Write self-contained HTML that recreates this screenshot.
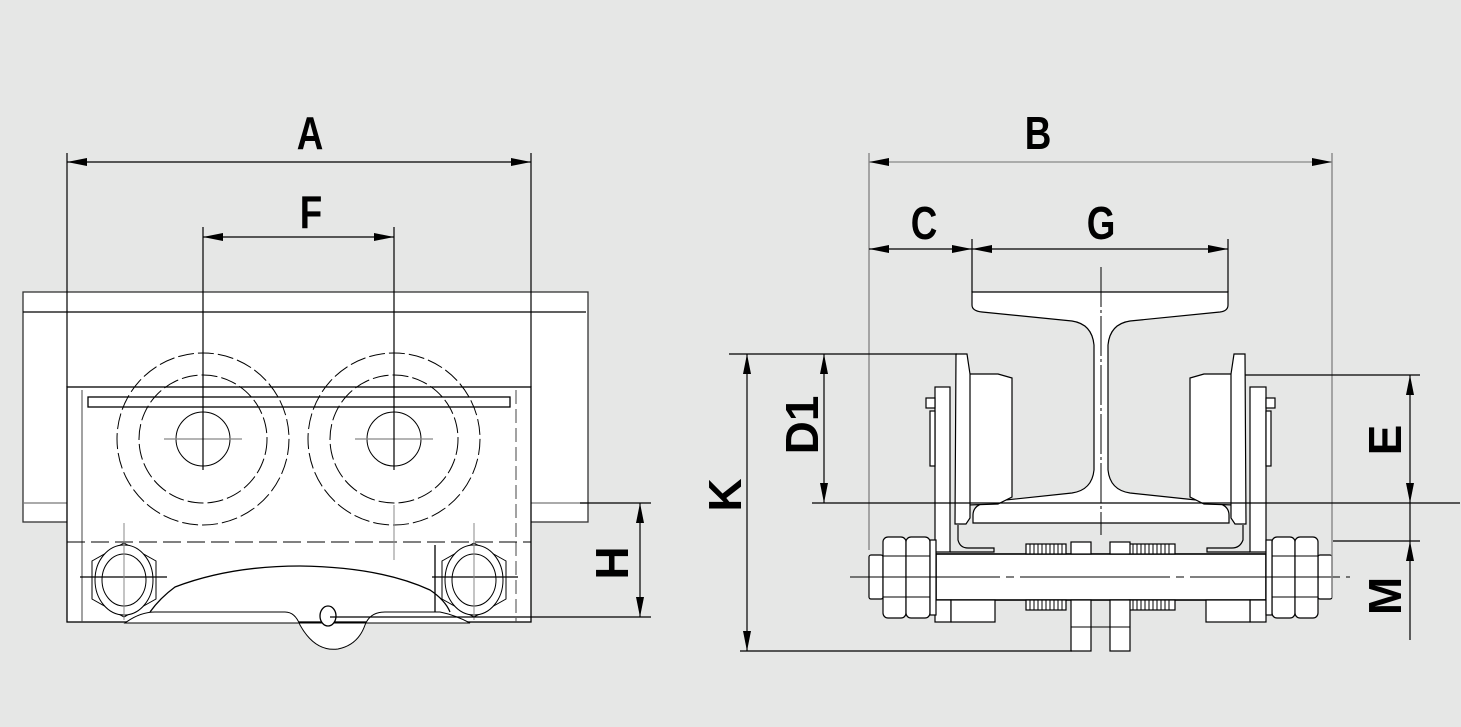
<!DOCTYPE html>
<html><head><meta charset="utf-8"><style>
html,body{margin:0;padding:0;background:#e6e7e6;}
svg{display:block}
.t{font-family:"Liberation Sans",sans-serif;font-weight:bold;fill:#000;}
</style></head><body>
<svg width="1461" height="727" viewBox="0 0 1461 727" xmlns="http://www.w3.org/2000/svg">
<defs>
<marker id="a" viewBox="0 0 20 8" refX="20" refY="4" markerWidth="20" markerHeight="8" orient="auto-start-reverse" markerUnits="userSpaceOnUse"><path d="M20,4 L0,0 L0,8 Z" fill="#000"/></marker>
</defs>
<rect width="1461" height="727" fill="#e6e7e6"/>
<g fill="#fff" stroke="#000" stroke-width="1.3">
<!-- LEFT VIEW -->
<rect x="23" y="292" width="565" height="230" stroke="#333"/>
<line x1="23" y1="312" x2="586" y2="312"/>
<line x1="23" y1="503" x2="67" y2="503" stroke="#777"/>
<line x1="531" y1="503" x2="588" y2="503" stroke="#777"/>
<rect x="67" y="387" width="464" height="235"/>
<line x1="82" y1="390" x2="82" y2="622" stroke="#444" stroke-width="1"/>
<line x1="516" y1="390" x2="516" y2="622" stroke="#444" stroke-width="1" stroke-dasharray="14,5"/>
<rect x="88" y="397" width="422" height="10"/>
<g fill="none" stroke-width="1" stroke-dasharray="16,4">
<circle cx="203" cy="439" r="86"/><circle cx="203" cy="439" r="64"/>
<circle cx="394" cy="439" r="86"/><circle cx="394" cy="439" r="64"/>
</g>
<circle cx="203" cy="439" r="27" fill="none" stroke-width="1"/>
<circle cx="394" cy="439" r="27" fill="none" stroke-width="1"/>
<line x1="67" y1="542" x2="531" y2="542" stroke-dasharray="18,6" stroke-width="1"/>
<line x1="435" y1="545" x2="435" y2="612"/>
<path d="M125,623 Q140,612 155,612 L285,612 Q295,612 300,625 Q315,652 338,649 Q358,645 365,625 Q370,612 385,612 L440,612 Q455,615 470,623 Z" fill="#fff" stroke="#000" stroke-width="1"/>
<path d="M150,612 Q160,598 175,587 Q230,566 300,566 Q380,567 430,590 Q445,600 450,612" fill="none"/>
<ellipse cx="328" cy="616" rx="8" ry="10"/>
<g stroke-width="1">
<polygon points="124,543 156,561 156,599 124,617 92,599 92,561" fill="#fff"/>
<ellipse cx="124" cy="580" rx="29" ry="35"/><ellipse cx="124" cy="580" rx="22" ry="26"/>
<polygon points="474,543 506,561 506,599 474,617 442,599 442,561" fill="#fff"/>
<ellipse cx="474" cy="580" rx="29" ry="35"/><ellipse cx="474" cy="580" rx="22" ry="26"/>
</g>
</g>
<g stroke="#000" stroke-width="1.2" fill="none">
<line x1="80" y1="577" x2="167" y2="577"/><line x1="432" y1="577" x2="518" y2="577"/>
<line x1="124" y1="523" x2="124" y2="620" stroke="#888" stroke-width="1"/>
<line x1="474" y1="523" x2="474" y2="620" stroke="#888" stroke-width="1"/>
<line x1="164" y1="439" x2="242" y2="439" stroke="#888"/><line x1="355" y1="439" x2="433" y2="439" stroke="#888"/>
<line x1="394" y1="505" x2="394" y2="560" stroke="#888" stroke-width="1"/>
<line x1="67" y1="153" x2="67" y2="387"/><line x1="531" y1="153" x2="531" y2="387"/>
<line x1="67" y1="162" x2="531" y2="162" marker-start="url(#a)" marker-end="url(#a)"/>
<line x1="203" y1="227" x2="203" y2="470"/><line x1="394" y1="227" x2="394" y2="470"/>
<line x1="203" y1="237" x2="394" y2="237" marker-start="url(#a)" marker-end="url(#a)"/>
<line x1="580" y1="503" x2="651" y2="503"/><line x1="330" y1="617" x2="651" y2="617"/>
<line x1="640" y1="503" x2="640" y2="617" marker-start="url(#a)" marker-end="url(#a)"/>
</g>
<!-- RIGHT VIEW -->
<g fill="#fff" stroke="#000" stroke-width="1.2">
<path d="M972,292 L1228,292 L1228,305 Q1228,311 1220,312 L1130,321 Q1110,324 1108,345 L1108,470 Q1110,490 1130,493 L1215,502 Q1229,505 1229,515 L1229,523 L973,523 L973,515 Q973,505 987,502 L1072,493 Q1092,490 1094,470 L1094,345 Q1092,324 1072,321 L982,312 Q972,311 972,305 Z"/>
<path d="M998,374 L1012,378 L1012,497 L998,504 L968,505 L968,374 Z"/>
<path d="M956,354 L967,354 L970,374 L970,518 L966,524 L955,524 Z"/>
<rect x="935" y="387" width="15" height="165"/>
<rect x="926" y="398" width="9" height="10"/>
<rect x="930" y="411" width="5" height="55"/>
<path d="M958,525 L958,540 Q960,548 968,548 L994,548 L994,552 L950,552" fill="none"/>
<path d="M1204,374 L1190,378 L1190,497 L1204,504 L1234,505 L1234,374 Z"/>
<path d="M1245,354 L1234,354 L1231,374 L1231,518 L1235,524 L1246,524 Z"/>
<rect x="1250" y="387" width="16" height="165"/>
<rect x="1266" y="398" width="9" height="10"/>
<rect x="1266" y="411" width="5" height="55"/>
<path d="M1243,525 L1243,540 Q1240,548 1232,548 L1207,548 L1207,552 L1250,552" fill="none"/>
<rect x="936" y="554" width="330" height="46" stroke-width="1.6"/>
<rect x="935" y="600" width="16" height="22"/><rect x="951" y="600" width="44" height="22"/>
<rect x="1250" y="600" width="16" height="22"/><rect x="1206" y="600" width="44" height="22"/>
<rect x="1026" y="544" width="40" height="10"/><rect x="1129" y="544" width="46" height="10"/>
<rect x="1026" y="600" width="40" height="10"/><rect x="1129" y="600" width="46" height="10"/>
<rect x="1071" y="542" width="20" height="12"/><rect x="1110" y="542" width="20" height="12"/>
<rect x="1071" y="600" width="20" height="51"/><rect x="1110" y="600" width="20" height="51"/>
<rect x="869" y="555" width="14" height="44" rx="2"/>
<rect x="883" y="537" width="23" height="81" rx="5"/><rect x="906" y="537" width="24" height="81" rx="5"/>
<rect x="930" y="540" width="6" height="75"/>
<rect x="1318" y="555" width="14" height="44" rx="2"/>
<rect x="1272" y="537" width="23" height="81" rx="5"/><rect x="1295" y="537" width="23" height="81" rx="5"/>
<rect x="1266" y="540" width="6" height="75"/>
</g>
<g stroke="#000" stroke-width="1" fill="none">
<path d="M1030,544v10M1034,544v10M1038,544v10M1042,544v10M1046,544v10M1050,544v10M1054,544v10M1058,544v10M1062,544v10M1133,544v10M1137,544v10M1141,544v10M1145,544v10M1149,544v10M1153,544v10M1157,544v10M1161,544v10M1165,544v10M1169,544v10"/>
<path d="M1030,600v10M1034,600v10M1038,600v10M1042,600v10M1046,600v10M1050,600v10M1054,600v10M1058,600v10M1062,600v10M1133,600v10M1137,600v10M1141,600v10M1145,600v10M1149,600v10M1153,600v10M1157,600v10M1161,600v10M1165,600v10M1169,600v10"/>
<path d="M883,556h47M883,597h47M1272,556h46M1272,597h46"/>
<line x1="1071" y1="627" x2="1130" y2="627"/>
<line x1="1101" y1="267" x2="1101" y2="535" stroke-dasharray="40,3,3,3"/>
<line x1="850" y1="577" x2="1350" y2="577" stroke-dasharray="150,6,8,6"/>
</g>
<g stroke="#000" stroke-width="1.2" fill="none">
<line x1="869" y1="153" x2="869" y2="550" stroke="#888" stroke-width="1.4"/>
<line x1="1332" y1="153" x2="1332" y2="598" stroke="#888" stroke-width="1.4"/>
<line x1="869" y1="162" x2="1332" y2="162" stroke="#888" marker-start="url(#a)" marker-end="url(#a)"/>
<line x1="972" y1="239" x2="972" y2="292"/><line x1="1228" y1="239" x2="1228" y2="292"/>
<line x1="869" y1="249" x2="972" y2="249" marker-start="url(#a)" marker-end="url(#a)"/>
<line x1="972" y1="249" x2="1228" y2="249" marker-start="url(#a)" marker-end="url(#a)"/>
<line x1="729" y1="354" x2="957" y2="354"/>
<line x1="812" y1="503" x2="1460" y2="503"/>
<line x1="740" y1="651" x2="1072" y2="651"/>
<line x1="824" y1="354" x2="824" y2="503" marker-start="url(#a)" marker-end="url(#a)"/>
<line x1="747" y1="354" x2="747" y2="651" marker-start="url(#a)" marker-end="url(#a)"/>
<line x1="1245" y1="375" x2="1420" y2="375"/>
<line x1="1333" y1="541" x2="1420" y2="541"/>
<line x1="1410" y1="375" x2="1410" y2="503" marker-start="url(#a)" marker-end="url(#a)"/>
<line x1="1410" y1="503" x2="1410" y2="541"/>
<line x1="1410" y1="541" x2="1410" y2="640" marker-start="url(#a)"/>
</g>
<g class="t" font-size="46" text-anchor="middle">
<text transform="translate(310,149) scale(0.8,1)">A</text>
<text transform="translate(311,228) scale(0.8,1)">F</text>
<text transform="translate(1038,149) scale(0.8,1)">B</text>
<text transform="translate(924,239) scale(0.8,1)">C</text>
<text transform="translate(1101,239) scale(0.8,1)">G</text>
<text transform="translate(818,425) rotate(-90)">D1</text>
<text transform="translate(741,495) rotate(-90)">K</text>
<text transform="translate(628,563) rotate(-90)">H</text>
<text transform="translate(1401,440) rotate(-90)">E</text>
<text transform="translate(1401,596) rotate(-90)">M</text>
</g>
</svg>
</body></html>
